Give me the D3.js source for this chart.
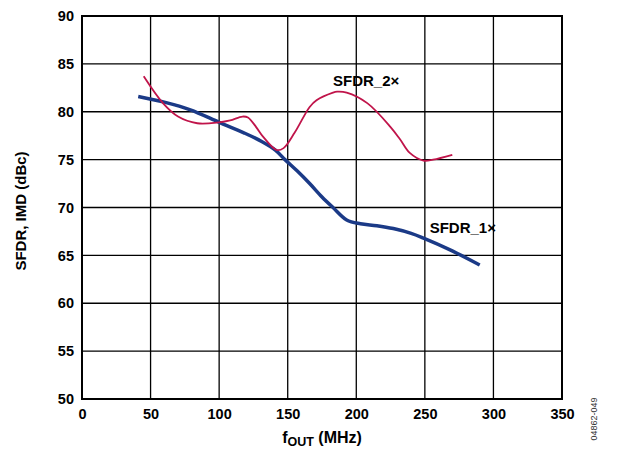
<!DOCTYPE html>
<html><head><meta charset="utf-8">
<script src="https://cdn.jsdelivr.net/npm/d3@7"></script>
<style>body{margin:0;background:#fff}svg{display:block}text{font-family:"Liberation Sans",Arial,sans-serif}</style>
</head><body>
<script>
const xTicks = [0,50,100,150,200,250,300,350];
const yTicks = [50,55,60,65,70,75,80,85,90];
const sfdr1 = [[41,81.6],[60,81.0],[79,80.2],[100,78.9],[118,77.8],[131,76.9],[141,76.0],[148,75.0],[157,73.8],[166,72.5],[175,71.1],[183,70.0],[193,68.7],[203,68.3],[215,68.1],[227,67.8],[240,67.3],[249,66.8],[268,65.6],[290,64.0]];
const sfdr2 = [[45,83.7],[59,80.9],[70,79.5],[84,78.8],[100,78.9],[108,79.1],[117,79.5],[121,79.4],[127,78.4],[132,77.4],[142,76.0],[147,76.2],[155,77.8],[166,80.5],[171,81.2],[183,82.0],[186,82.1],[193,82.0],[208,80.9],[225,78.4],[232,77.1],[239,75.7],[249,74.9],[256,75.0],[270,75.5]];
const seriesLabels = [{name:"SFDR_2×", x:183, y:82.7},{name:"SFDR_1×", x:253.5, y:67.35}];

const W=618,H=449, L=82, R=562, T=16, B=399;
const svg=d3.select("body").append("svg").attr("width",W).attr("height",H);
const x=d3.scaleLinear().domain([0,350]).range([L,R]);
const y=d3.scaleLinear().domain([50,90]).range([B,T]);

const g=svg.append("g");
g.selectAll(".vx").data(xTicks.slice(1,-1)).join("line")
 .attr("x1",d=>x(d)).attr("x2",d=>x(d)).attr("y1",T).attr("y2",B)
 .attr("stroke","#000").attr("stroke-width",1.3);
g.selectAll(".hy").data(yTicks.slice(1,-1)).join("line")
 .attr("y1",d=>y(d)).attr("y2",d=>y(d)).attr("x1",L).attr("x2",R)
 .attr("stroke","#000").attr("stroke-width",1.3);
g.append("rect").attr("x",L).attr("y",T).attr("width",R-L).attr("height",B-T)
 .attr("fill","none").attr("stroke","#000").attr("stroke-width",2);

const xAxis=svg.append("g").attr("transform",`translate(0,${B})`)
 .call(d3.axisBottom(x).tickValues(xTicks).tickSize(0).tickPadding(10));
const yAxis=svg.append("g").attr("transform",`translate(${L},0)`)
 .call(d3.axisLeft(y).tickValues(yTicks).tickSize(0).tickPadding(8));
[xAxis,yAxis].forEach(a=>{a.select(".domain").remove();
 a.selectAll("text").attr("font-size",14.5).attr("font-weight","bold").attr("fill","#000")
  .attr("font-family","'Liberation Sans',Arial,sans-serif");});

const line=d3.line().x(d=>x(d[0])).y(d=>y(d[1])).curve(d3.curveCatmullRom.alpha(0.5));
svg.append("path").datum(sfdr1).attr("d",line).attr("fill","none")
 .attr("stroke","#1b3a87").attr("stroke-width",3.5).attr("stroke-linecap","butt");
svg.append("path").datum(sfdr2).attr("d",line).attr("fill","none")
 .attr("stroke","#c0144a").attr("stroke-width",1.8);

svg.selectAll(".lab").data(seriesLabels).join("text")
 .attr("x",d=>x(d.x)).attr("y",d=>y(d.y)).text(d=>d.name)
 .attr("font-size",15).attr("font-weight","bold").attr("fill","#000");

svg.append("text").attr("transform","translate(26,211) rotate(-90)").attr("text-anchor","middle")
 .attr("font-size",15).attr("font-weight","bold").text("SFDR, IMD (dBc)");
const xt=svg.append("text").attr("x",322).attr("y",443).attr("text-anchor","middle")
 .attr("font-size",16).attr("font-weight","bold");
xt.append("tspan").text("f");
xt.append("tspan").attr("font-size",12.5).attr("dy",3).text("OUT");
xt.append("tspan").attr("dy",-3).text(" (MHz)");
svg.append("text").attr("transform","translate(597,419) rotate(-90)").attr("text-anchor","middle")
 .attr("font-size",9).attr("fill","#333").text("04862-049");
</script>
</body></html>
